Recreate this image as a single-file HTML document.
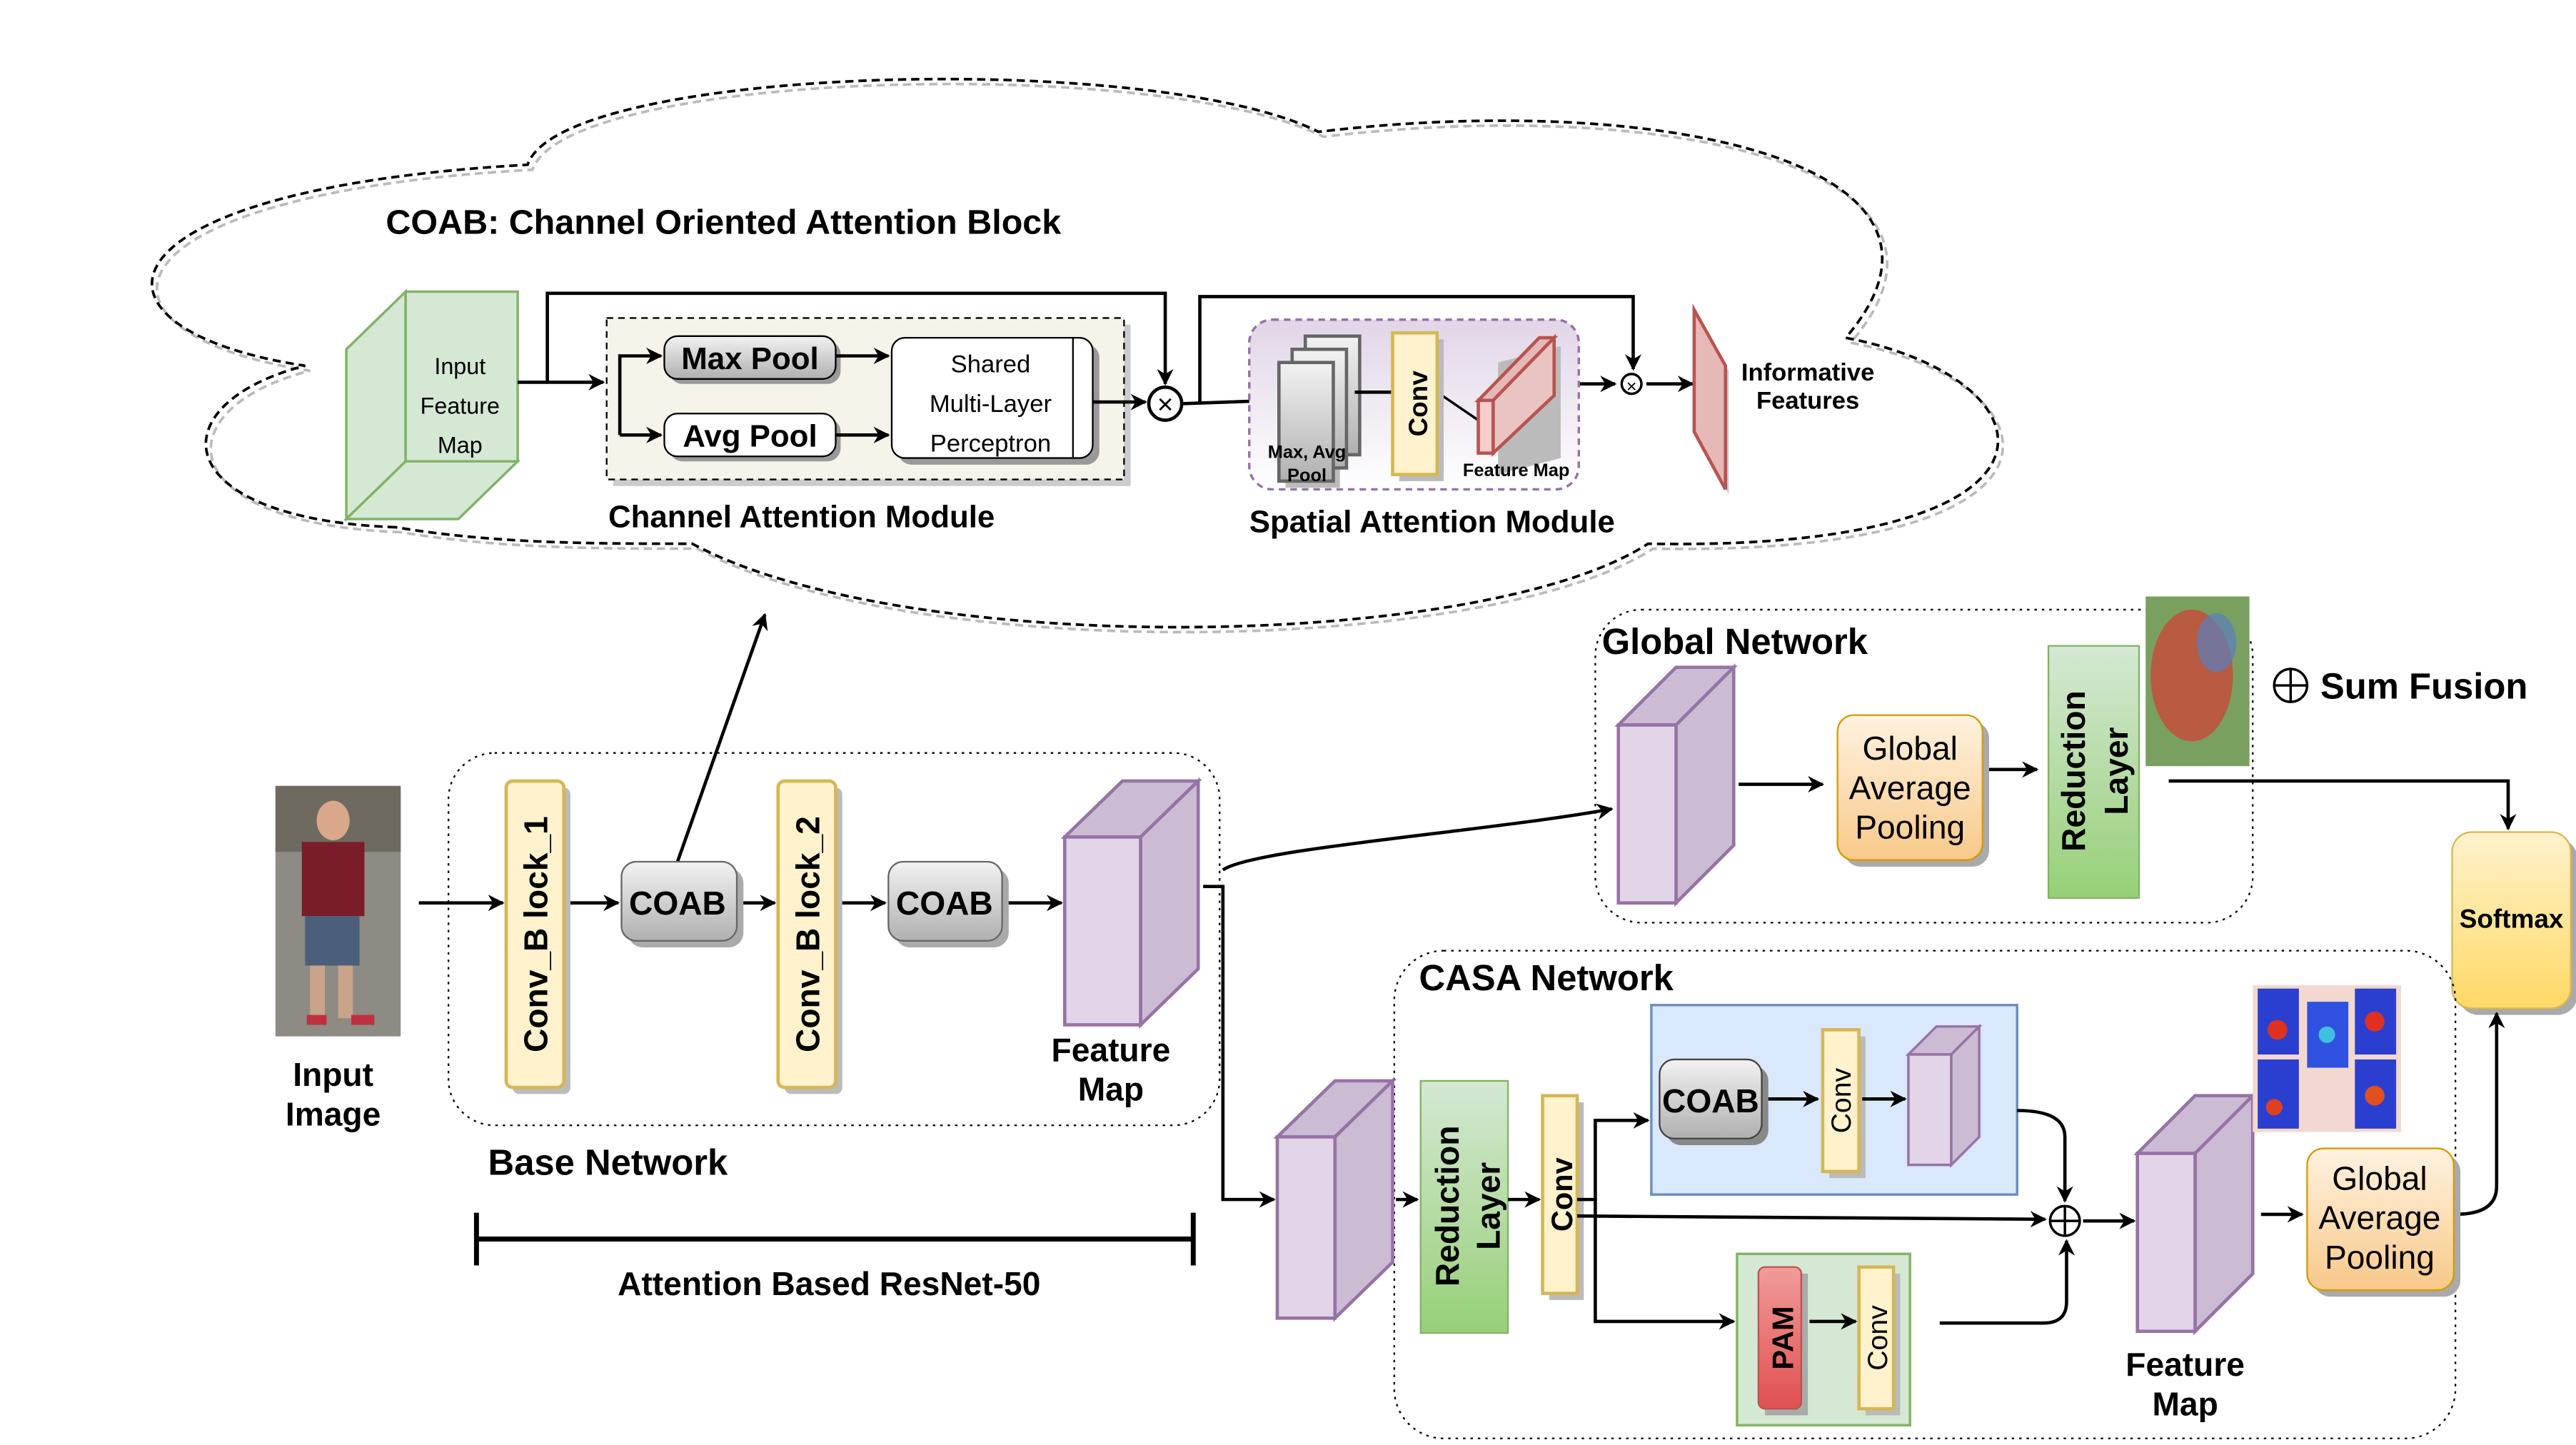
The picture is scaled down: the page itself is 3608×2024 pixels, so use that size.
<!DOCTYPE html>
<html><head><meta charset="utf-8"><style>html,body{margin:0;padding:0;background:#fff}svg{display:block}text{font-family:"Liberation Sans",sans-serif}</style></head>
<body>
<svg width="3608" height="2024" viewBox="0 0 1563 877" xmlns="http://www.w3.org/2000/svg">
<defs>
<marker id="a" markerWidth="10" markerHeight="10" refX="9" refY="5" orient="auto" markerUnits="userSpaceOnUse"><path d="M0,0 L10,5 L0,10 L3,5 Z" fill="#000"/></marker>
<linearGradient id="gy" x1="0" y1="0" x2="0" y2="1"><stop offset="0" stop-color="#f2f2f2"/><stop offset="1" stop-color="#b0b0b0"/></linearGradient>
<linearGradient id="go" x1="0" y1="0" x2="0" y2="1"><stop offset="0" stop-color="#fff2e0"/><stop offset="1" stop-color="#f8c98a"/></linearGradient>
<linearGradient id="gg" x1="0" y1="0" x2="0" y2="1"><stop offset="0" stop-color="#d5e8d4"/><stop offset="1" stop-color="#97d077"/></linearGradient>
<linearGradient id="gs" x1="0" y1="0" x2="0" y2="1"><stop offset="0" stop-color="#fff2cc"/><stop offset="1" stop-color="#ffd966"/></linearGradient>
<linearGradient id="gp" x1="0" y1="0" x2="0" y2="1"><stop offset="0" stop-color="#e1d5e7"/><stop offset="1" stop-color="#fff"/></linearGradient>
<linearGradient id="gr" x1="0" y1="0" x2="0" y2="1"><stop offset="0" stop-color="#f19c99"/><stop offset="1" stop-color="#e05050"/></linearGradient>
</defs>
<g fill="none" stroke-width="1.6" stroke-dasharray="5,3">
<path transform="translate(3,3)" stroke="#bbb" d="M240,320 C100,315 95,245 185,222 C40,200 50,115 320,100 C340,40 700,30 800,80 C1010,55 1210,100 1120,205 C1250,230 1270,335 1000,330 C900,395 550,400 420,330 C360,330 300,330 240,320 Z"/>
<path stroke="#000" d="M240,320 C100,315 95,245 185,222 C40,200 50,115 320,100 C340,40 700,30 800,80 C1010,55 1210,100 1120,205 C1250,230 1270,335 1000,330 C900,395 550,400 420,330 C360,330 300,330 240,320 Z"/>
</g>
<text x="234" y="142" font-size="21" font-weight="bold">COAB: Channel Oriented Attention Block</text>
<g stroke="#82b366" stroke-width="1.5" fill="#d5e8d4">
<polygon points="210,212 246,177 246,280 210,315"/>
<polygon points="210,315 246,280 314,280 278,315"/>
<rect x="246" y="177" width="68" height="103"/>
</g>
<text font-size="14" text-anchor="middle"><tspan x="279" y="227">Input</tspan><tspan x="279" y="251">Feature</tspan><tspan x="279" y="275">Map</tspan></text>
<rect x="372" y="197" width="314" height="98" fill="#ccc"/>
<rect x="368" y="193" width="314" height="98" fill="#f6f3ea" stroke="#000" stroke-dasharray="4,3"/>
<rect x="406" y="207" width="104" height="26" rx="8" fill="#999"/>
<rect x="403" y="204" width="104" height="26" rx="8" fill="url(#gy)" stroke="#000"/>
<text x="455" y="224" font-size="19" font-weight="bold" text-anchor="middle">Max Pool</text>
<rect x="406" y="254" width="104" height="26" rx="8" fill="#999"/>
<rect x="403" y="251" width="104" height="26" rx="8" fill="#fff" stroke="#000"/>
<text x="455" y="271" font-size="19" font-weight="bold" text-anchor="middle">Avg Pool</text>
<rect x="545" y="209" width="122" height="73" rx="8" fill="#999"/>
<rect x="541" y="205" width="122" height="73" rx="8" fill="#fff" stroke="#000"/>
<line x1="651" y1="205" x2="651" y2="278" stroke="#000"/>
<text font-size="15" text-anchor="middle"><tspan x="601" y="226">Shared</tspan><tspan x="601" y="250">Multi-Layer</tspan><tspan x="601" y="274">Perceptron</tspan></text>
<g stroke="#000" stroke-width="2" fill="none">
<line x1="314" y1="232" x2="366" y2="232" marker-end="url(#a)"/>
<polyline points="332,232 332,178 707,178 707,233" marker-end="url(#a)"/>
<polyline points="376,264 376,216 401,216" marker-end="url(#a)"/>
<line x1="376" y1="264" x2="401" y2="264" marker-end="url(#a)"/>
<line x1="507" y1="216" x2="539" y2="216" marker-end="url(#a)"/>
<line x1="507" y1="264" x2="539" y2="264" marker-end="url(#a)"/>
<line x1="663" y1="244" x2="695" y2="244" marker-end="url(#a)"/>
<line x1="717" y1="245" x2="774" y2="243" marker-end="url(#a)"/>
<polyline points="728,244 728,180 991,180 991,224" marker-end="url(#a)"/>
<line x1="957" y1="233" x2="980" y2="233" marker-end="url(#a)"/>
<line x1="999" y1="233" x2="1027" y2="233" marker-end="url(#a)"/>
</g>
<circle cx="707" cy="245" r="10" fill="#fff" stroke="#000" stroke-width="2"/>
<text x="707" y="251" font-size="17" text-anchor="middle">×</text>
<text x="369" y="320" font-size="19" font-weight="bold">Channel Attention Module</text>
<rect x="758" y="194" width="200" height="103" rx="14" fill="url(#gp)" stroke="#9673a6" stroke-dasharray="4,3" stroke-width="1.5"/>
<rect x="780" y="224" width="33" height="72" fill="#bbb"/>
<g stroke="#666" stroke-width="2" fill="url(#gy)">
<rect x="792" y="204" width="33" height="72"/>
<rect x="784" y="212" width="33" height="72"/>
<rect x="776" y="220" width="33" height="72"/>
</g>
<line x1="822" y1="238" x2="845" y2="238" stroke="#000" stroke-width="2"/>
<line x1="872" y1="238" x2="897" y2="255" stroke="#000" stroke-width="1.5"/>
<rect x="849" y="206" width="27" height="86" fill="#bbb"/>
<rect x="845" y="202" width="27" height="86" fill="#fff2cc" stroke="#d6b656" stroke-width="2"/>
<text transform="translate(866,245) rotate(-90)" font-size="16" font-weight="bold" text-anchor="middle">Conv</text>
<g stroke="#b85450" stroke-width="2">
<polygon points="909,220 947,210 947,278 909,288" fill="#bbb" stroke="none"/>
<polygon points="897,243 934,205 943,205 906,243" fill="#e6b9b8"/>
<polygon points="906,243 943,205 943,240 906,275" fill="#eac4c3"/>
<rect x="897" y="243" width="9" height="32" fill="#f8cecc"/>
</g>
<text x="793" y="278" font-size="11" font-weight="bold" text-anchor="middle">Max, Avg</text>
<text x="793" y="292" font-size="11" font-weight="bold" text-anchor="middle">Pool</text>
<text x="920" y="289" font-size="11" font-weight="bold" text-anchor="middle">Feature Map</text>
<circle cx="990" cy="233" r="6" fill="#fff" stroke="#000" stroke-width="1.5"/>
<text x="990" y="238" font-size="11" text-anchor="middle">×</text>
<polygon points="1031,195 1049,225 1049,300 1031,270" fill="#ccc"/>
<polygon points="1028,188 1047,222 1047,297 1028,262" fill="#e6b9b8" stroke="#b85450" stroke-width="2"/>
<text font-size="15" font-weight="bold" font-family="DejaVu Sans Condensed" text-anchor="middle"><tspan x="1097" y="231">Informative</tspan><tspan x="1097" y="248">Features</tspan></text>
<text x="758" y="323" font-size="19" font-weight="bold">Spatial Attention Module</text>
<rect x="272" y="457" width="468" height="226" rx="28" fill="none" stroke="#000" stroke-dasharray="1.5,3"/>
<rect x="167" y="477" width="76" height="152" fill="#8e8a84"/>
<rect x="167" y="477" width="76" height="40" fill="#6f6a60"/>
<ellipse cx="202" cy="498" rx="10" ry="12" fill="#d9a88a"/>
<rect x="183" y="511" width="38" height="45" fill="#7b1c2a"/>
<rect x="185" y="556" width="33" height="30" fill="#4b5f7a"/>
<rect x="188" y="586" width="9" height="32" fill="#c9a38a"/><rect x="205" y="586" width="9" height="32" fill="#c9a38a"/>
<rect x="186" y="616" width="12" height="6" fill="#c03040"/><rect x="213" y="616" width="14" height="6" fill="#c03040"/>
<text font-size="20" font-weight="bold" text-anchor="middle"><tspan x="202" y="659">Input</tspan><tspan x="202" y="683">Image</tspan></text>
<g stroke="#000" stroke-width="2" fill="none">
<line x1="254" y1="548" x2="305" y2="548" marker-end="url(#a)"/>
<line x1="344" y1="548" x2="375" y2="548" marker-end="url(#a)"/>
<line x1="448" y1="548" x2="470" y2="548" marker-end="url(#a)"/>
<line x1="509" y1="548" x2="537" y2="548" marker-end="url(#a)"/>
<line x1="610" y1="548" x2="644" y2="548" marker-end="url(#a)"/>
<line x1="411" y1="523" x2="464" y2="373" marker-end="url(#a)"/>
<polyline points="730,538 742,538 742,728 773,728" marker-end="url(#a)"/>
<path d="M742,528 C760,515 900,505 978,491" marker-end="url(#a)"/>
</g>
<rect x="311" y="478" width="35" height="186" rx="4" fill="#bbb"/>
<rect x="307" y="474" width="35" height="186" rx="4" fill="#fff2cc" stroke="#d6b656" stroke-width="2"/>
<text transform="translate(332,567) rotate(-90)" font-size="20" font-weight="bold" text-anchor="middle">Conv_B lock_1</text>
<rect x="476" y="478" width="35" height="186" rx="4" fill="#bbb"/>
<rect x="472" y="474" width="35" height="186" rx="4" fill="#fff2cc" stroke="#d6b656" stroke-width="2"/>
<text transform="translate(497,567) rotate(-90)" font-size="20" font-weight="bold" text-anchor="middle">Conv_B lock_2</text>
<rect x="381" y="527" width="70" height="48" rx="9" fill="#aaa"/>
<rect x="377" y="523" width="70" height="48" rx="9" fill="url(#gy)" stroke="#666"/>
<text x="411" y="555" font-size="20" font-weight="bold" text-anchor="middle">COAB</text>
<rect x="543" y="527" width="69" height="48" rx="9" fill="#aaa"/>
<rect x="539" y="523" width="69" height="48" rx="9" fill="url(#gy)" stroke="#666"/>
<text x="573" y="555" font-size="20" font-weight="bold" text-anchor="middle">COAB</text>
<g stroke="#9673a6" stroke-width="2">
<polygon points="646,508 681,474 727,474 692,508" fill="#cbbcd3"/>
<polygon points="692,508 727,474 727,588 692,622" fill="#cbbcd3"/>
<rect x="646" y="508" width="46" height="114" fill="#e1d5e7"/>
</g>
<text font-size="20" font-weight="bold" text-anchor="middle"><tspan x="674" y="644">Feature</tspan><tspan x="674" y="668">Map</tspan></text>
<text x="296" y="713" font-size="22" font-weight="bold">Base Network</text>
<g stroke="#000" stroke-width="3"><line x1="289" y1="752" x2="724" y2="752"/><line x1="289" y1="736" x2="289" y2="768"/><line x1="724" y1="736" x2="724" y2="768"/></g>
<text x="503" y="786" font-size="20" font-weight="bold" text-anchor="middle">Attention Based ResNet-50</text>
<rect x="968" y="370" width="399" height="190" rx="28" fill="none" stroke="#000" stroke-dasharray="1.5,3"/>
<text x="972" y="397" font-size="22" font-weight="bold">Global Network</text>
<g stroke="#9673a6" stroke-width="2">
<polygon points="982,440 1017,405 1052,405 1017,440" fill="#cbbcd3"/>
<polygon points="1017,440 1052,405 1052,513 1017,548" fill="#cbbcd3"/>
<rect x="982" y="440" width="35" height="108" fill="#e1d5e7"/>
</g>
<g stroke="#000" stroke-width="2"><line x1="1055" y1="476" x2="1106" y2="476" marker-end="url(#a)"/><line x1="1203" y1="467" x2="1236" y2="467" marker-end="url(#a)"/>
<polyline points="1316,474 1522,474 1522,503" fill="none" marker-end="url(#a)"/></g>
<rect x="1119" y="438" width="88" height="88" rx="10" fill="#aaa"/>
<rect x="1115" y="434" width="88" height="88" rx="10" fill="url(#go)" stroke="#d79b00"/>
<text font-size="20" text-anchor="middle"><tspan x="1159" y="461">Global</tspan><tspan x="1159" y="485">Average</tspan><tspan x="1159" y="509">Pooling</tspan></text>
<rect x="1243" y="392" width="55" height="153" fill="url(#gg)" stroke="#82b366"/>
<text transform="translate(1265,468) rotate(-90)" font-size="20" font-weight="bold" text-anchor="middle">Reduction</text>
<text transform="translate(1291,468) rotate(-90)" font-size="20" font-weight="bold" text-anchor="middle">Layer</text>
<rect x="1302" y="362" width="63" height="103" fill="#7aa060"/>
<ellipse cx="1330" cy="410" rx="25" ry="40" fill="#c84a3a" opacity="0.8"/>
<ellipse cx="1345" cy="390" rx="12" ry="18" fill="#5a7fbf" opacity="0.7"/>
<circle cx="1390" cy="416" r="10" fill="none" stroke="#000" stroke-width="1.5"/>
<line x1="1380" y1="416" x2="1400" y2="416" stroke="#000" stroke-width="1.5"/><line x1="1390" y1="406" x2="1390" y2="426" stroke="#000" stroke-width="1.5"/>
<text x="1408" y="424" font-size="22" font-weight="bold">Sum Fusion</text>
<rect x="1492" y="509" width="72" height="107" rx="12" fill="#aaa"/>
<rect x="1488" y="505" width="72" height="107" rx="12" fill="url(#gs)" stroke="#d6b656"/>
<text x="1524" y="563" font-size="16" font-weight="bold" text-anchor="middle">Softmax</text>
<rect x="846" y="577" width="644" height="296" rx="30" fill="none" stroke="#000" stroke-dasharray="1.5,3"/>
<text x="861" y="601" font-size="22" font-weight="bold">CASA Network</text>
<g stroke="#9673a6" stroke-width="2">
<polygon points="775,690 810,656 845,656 810,690" fill="#cbbcd3"/>
<polygon points="810,690 845,656 845,766 810,800" fill="#cbbcd3"/>
<rect x="775" y="690" width="35" height="110" fill="#e1d5e7"/>
</g>
<rect x="862" y="656" width="53" height="153" fill="url(#gg)" stroke="#82b366"/>
<text transform="translate(885,732) rotate(-90)" font-size="20" font-weight="bold" text-anchor="middle">Reduction</text>
<text transform="translate(910,732) rotate(-90)" font-size="20" font-weight="bold" text-anchor="middle">Layer</text>
<rect x="940" y="669" width="21" height="120" fill="#bbb"/>
<rect x="936" y="665" width="21" height="120" fill="#fff2cc" stroke="#d6b656" stroke-width="2"/>
<text transform="translate(954,725) rotate(-90)" font-size="18" font-weight="bold" text-anchor="middle">Conv</text>
<rect x="1002" y="610" width="222" height="115" fill="#dae8fc" stroke="#6c8ebf" stroke-width="1.5"/>
<rect x="1011" y="647" width="62" height="48" rx="9" fill="#888"/>
<rect x="1007" y="643" width="62" height="48" rx="9" fill="url(#gy)" stroke="#444"/>
<text x="1038" y="675" font-size="20" font-weight="bold" text-anchor="middle">COAB</text>
<rect x="1110" y="629" width="22" height="86" fill="#bbb"/>
<rect x="1106" y="625" width="22" height="86" fill="#fff2cc" stroke="#d6b656" stroke-width="2"/>
<text transform="translate(1123,668) rotate(-90)" font-size="17" text-anchor="middle">Conv</text>
<g stroke="#9673a6" stroke-width="1.5">
<polygon points="1158,640 1175,623 1201,623 1184,640" fill="#cbbcd3"/>
<polygon points="1184,640 1201,623 1201,690 1184,707" fill="#cbbcd3"/>
<rect x="1158" y="640" width="26" height="67" fill="#e1d5e7"/>
</g>
<rect x="1054" y="761" width="105" height="104" fill="#d5e8d4" stroke="#82b366" stroke-width="1.5"/>
<rect x="1071" y="773" width="26" height="86" fill="#aaa"/>
<rect x="1067" y="769" width="26" height="86" rx="4" fill="url(#gr)" stroke="#b85450"/>
<text transform="translate(1088,812) rotate(-90)" font-size="18" font-weight="bold" text-anchor="middle">PAM</text>
<rect x="1132" y="773" width="21" height="86" fill="#bbb"/>
<rect x="1128" y="769" width="21" height="86" fill="#fff2cc" stroke="#d6b656" stroke-width="2"/>
<text transform="translate(1145,812) rotate(-90)" font-size="17" text-anchor="middle">Conv</text>
<g stroke="#000" stroke-width="2" fill="none">
<line x1="847" y1="728" x2="860" y2="728" marker-end="url(#a)"/>
<line x1="915" y1="728" x2="934" y2="728" marker-end="url(#a)"/>
<polyline points="957,728 968,728 968,680 1000,680" marker-end="url(#a)"/>
<polyline points="968,728 968,802 1052,802" marker-end="url(#a)"/>
<line x1="957" y1="738" x2="1241" y2="740" marker-end="url(#a)"/>
<line x1="1073" y1="667" x2="1103" y2="667" marker-end="url(#a)"/>
<line x1="1130" y1="667" x2="1156" y2="667" marker-end="url(#a)"/>
<path d="M1224,674 Q1253,674 1253,690 L1253,729" marker-end="url(#a)"/>
<line x1="1098" y1="802" x2="1126" y2="802" marker-end="url(#a)"/>
<path d="M1177,803 L1240,803 Q1254,803 1254,790 L1254,753" marker-end="url(#a)"/>
<line x1="1264" y1="741" x2="1295" y2="741" marker-end="url(#a)"/>
<line x1="1372" y1="737" x2="1397" y2="737" marker-end="url(#a)"/>
<path d="M1490,737 Q1515,737 1515,720 L1515,615" marker-end="url(#a)"/>
</g>
<circle cx="1253" cy="741" r="9" fill="#fff" stroke="#000" stroke-width="1.5"/>
<line x1="1244" y1="741" x2="1262" y2="741" stroke="#000" stroke-width="1.5"/><line x1="1253" y1="732" x2="1253" y2="750" stroke="#000" stroke-width="1.5"/>
<g stroke="#9673a6" stroke-width="2">
<polygon points="1297,700 1332,665 1367,665 1332,700" fill="#cbbcd3"/>
<polygon points="1332,700 1367,665 1367,773 1332,808" fill="#cbbcd3"/>
<rect x="1297" y="700" width="35" height="108" fill="#e1d5e7"/>
</g>
<text font-size="20" font-weight="bold" text-anchor="middle"><tspan x="1326" y="835">Feature</tspan><tspan x="1326" y="859">Map</tspan></text>
<rect x="1367" y="598" width="90" height="89" fill="#f2d8d0"/>
<rect x="1370" y="600" width="25" height="40" fill="#2a3fd0"/><rect x="1370" y="643" width="25" height="42" fill="#2a3fd0"/>
<rect x="1400" y="608" width="25" height="40" fill="#3050e0"/><rect x="1429" y="600" width="25" height="40" fill="#2a3fd0"/><rect x="1429" y="643" width="25" height="42" fill="#2a3fd0"/>
<circle cx="1382" cy="625" r="6" fill="#e03020"/><circle cx="1441" cy="620" r="6" fill="#e03020"/><circle cx="1412" cy="628" r="5" fill="#40c0e0"/><circle cx="1441" cy="665" r="6" fill="#e05020"/><circle cx="1380" cy="672" r="5" fill="#e04020"/>
<rect x="1404" y="701" width="89" height="86" rx="10" fill="#aaa"/>
<rect x="1400" y="697" width="89" height="86" rx="10" fill="url(#go)" stroke="#d79b00"/>
<text font-size="20" text-anchor="middle"><tspan x="1444" y="722">Global</tspan><tspan x="1444" y="746">Average</tspan><tspan x="1444" y="770">Pooling</tspan></text>
</svg>
</body></html>
